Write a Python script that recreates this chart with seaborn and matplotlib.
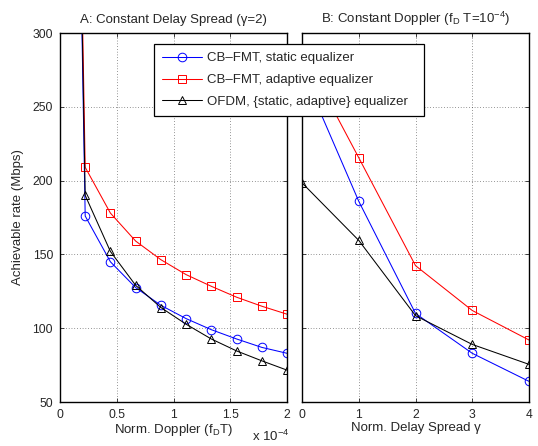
import numpy as np
import pandas as pd
import seaborn as sns
import matplotlib
matplotlib.use('Agg')
import matplotlib.pyplot as plt

# data
doppler = [0.0, 0.222, 0.444, 0.667, 0.889, 1.111, 1.333, 1.556, 1.778, 2.0]  # x 1e-4
a_static = [1150, 176, 145, 127.5, 115.5, 106.5, 99, 92.7, 87, 83]
a_adaptive = [1150, 209, 178, 159, 146.4, 136.3, 128.4, 121, 114.9, 109.5]
a_ofdm = [1150, 190, 152, 129, 114, 102.7, 92.7, 84.6, 77.9, 71.6]

delay = [0, 1, 2, 3, 4]
b_static = [275, 186, 110, 83, 64]
b_adaptive = [288, 215.5, 142.4, 112, 92]
b_ofdm = [198.5, 159.5, 108.5, 89, 75.5]

labels = ['CB\u2013FMT, static equalizer', 'CB\u2013FMT, adaptive equalizer',
          'OFDM, {static, adaptive} equalizer']

sns.set_style('ticks')
plt.rcParams['font.family'] = ['Liberation Sans', 'DejaVu Sans']
plt.rcParams['mathtext.default'] = 'regular'
plt.rcParams['font.size'] = 9.5

fig = plt.figure(figsize=(5.38, 4.46), dpi=100)
ax1 = fig.add_axes([60/538, 1-402/446, 227/538, 369/446])
ax2 = fig.add_axes([302/538, 1-402/446, 227/538, 369/446])

styles = [dict(color='#0000ff', marker='o', ms=6.2),
          dict(color='#ff0000', marker='s', ms=5.4),
          dict(color='black', marker='^', ms=6.2)]

def draw(ax, x, series):
    for ys, st, lab in zip(series, styles, labels):
        sns.lineplot(x=x, y=ys, ax=ax, color=st['color'], marker=st['marker'],
                     markersize=st['ms'],
                     markerfacecolor='none', markeredgecolor=st['color'],
                     markeredgewidth=0.7, linewidth=0.75, label=lab,
                     legend=False, sort=False)

draw(ax1, doppler, [a_static, a_adaptive, a_ofdm])
draw(ax2, delay, [b_static, b_adaptive, b_ofdm])

for ax in (ax1, ax2):
    ax.set_ylim(50, 300)
    ax.set_yticks([50, 100, 150, 200, 250, 300])
    ax.grid(True, linestyle=(0, (1, 3)), color='black', linewidth=0.5, alpha=0.8)
    ax.tick_params(direction='in', length=3, width=0.6, top=True, right=True,
                   labelsize=8.7, pad=5)
    for s in ax.spines.values():
        s.set_linewidth(1.0)
        s.set_color('black')

ax1.set_xlim(0, 2)
ax1.set_xticks([0, 0.5, 1, 1.5, 2])
ax1.set_xticklabels(['0', '0.5', '1', '1.5', '2'])
ax1.set_xlabel('Norm. Doppler (f$_D$T)', fontsize=9.5, labelpad=1)
ax1.set_ylabel('Achievable rate (Mbps)', fontsize=9.5, labelpad=6)
ax1.set_title('A: Constant Delay Spread (\u03b3=2)', fontsize=9.5, pad=7)
fig.text(252/538, 1-441/446, 'x 10$^{-4}$', fontsize=9.5, ha='left', va='baseline')

ax2.set_xlim(0, 4)
ax2.set_xticks([0, 1, 2, 3, 4])
ax2.set_yticklabels([])
ax2.set_xlabel('Norm. Delay Spread \u03b3', fontsize=9.5, labelpad=1)
ax2.set_title('B: Constant Doppler (f$_D$ T=10$^{-4}$)', fontsize=9.5, pad=7)

handles = ax1.get_lines()[:3]
leg = fig.legend(handles, labels, loc='upper left',
                 bbox_to_anchor=(154/538, 1-115/446, 270/538, 71/446), mode='expand',
                 frameon=True, fancybox=False, framealpha=1, edgecolor='black',
                 fontsize=9.5, handlelength=3.0, labelspacing=0.72, borderpad=0.62,
                 handletextpad=0.4, borderaxespad=0)
leg.get_frame().set_linewidth(0.9)

fig.savefig('out.png', dpi=100)
